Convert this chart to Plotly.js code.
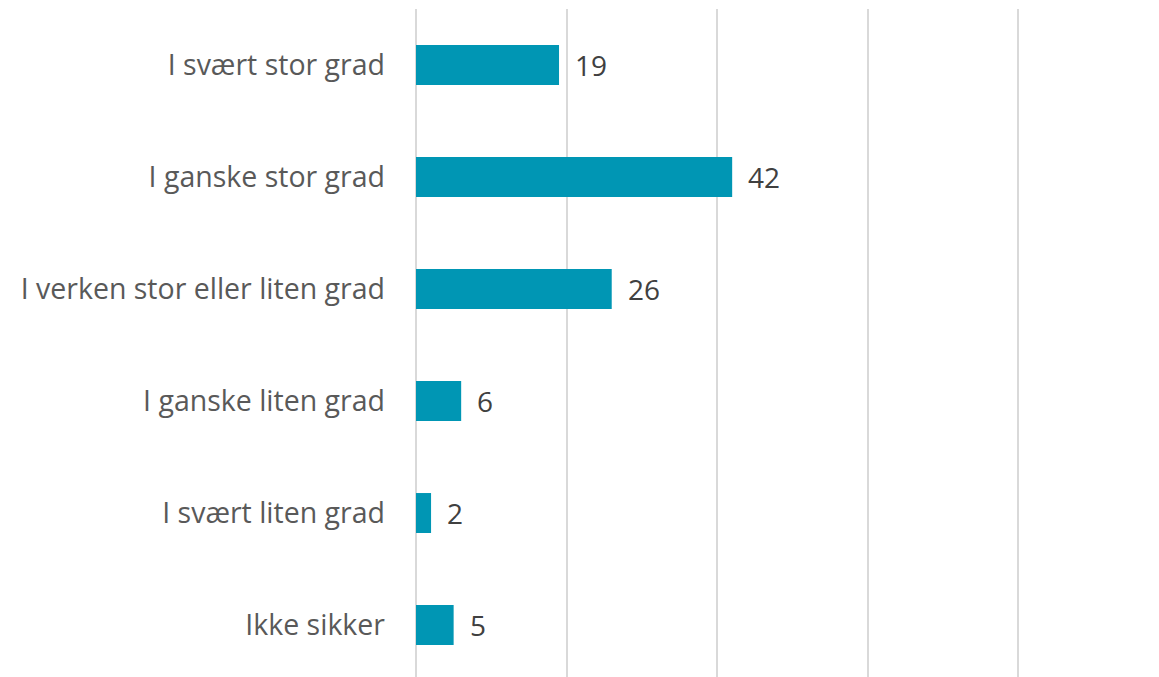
<!DOCTYPE html>
<html>
<head>
<meta charset="utf-8">
<script src="https://cdn.plot.ly/plotly-3.0.1.min.js"></script>
<style>html,body{margin:0;padding:0;background:#fff;}#chart{width:1159px;height:677px;}</style>
</head>
<body>
<div id="chart"></div>
<script>
const categories = ["I svært stor grad", "I ganske stor grad", "I verken stor eller liten grad", "I ganske liten grad", "I svært liten grad", "Ikke sikker"];
const values = [19, 42, 26, 6, 2, 5];
const xTicks = [0, 20, 40, 60, 80];

const trace = {
  type: 'bar',
  orientation: 'h',
  x: values,
  y: categories,
  marker: {color: '#0096B4'},
  width: 0.357,
  hoverinfo: 'none'
};

const annotations = categories.map((c, i) => ({
  x: values[i], y: c, xref: 'x', yref: 'y',
  text: String(values[i]),
  showarrow: false, xanchor: 'left', xshift: 14,
  font: {family: 'Open Sans, sans-serif', size: 28, color: '#404040'}
}));

const layout = {
  width: 1159, height: 677,
  margin: {l: 416, r: 0, t: 9, b: 0, pad: 0},
  paper_bgcolor: '#ffffff', plot_bgcolor: '#ffffff',
  showlegend: false,
  xaxis: {
    range: [0, 98.7], tickvals: xTicks, showticklabels: false,
    showgrid: true, gridcolor: '#d9d9d9', gridwidth: 2,
    zeroline: true, zerolinecolor: '#d9d9d9', zerolinewidth: 2,
    showline: false, fixedrange: true
  },
  yaxis: {
    type: 'category', range: [5.464, -0.5], autorange: false,
    showgrid: false, zeroline: false, showline: false,
    ticks: '', ticklabelstandoff: 30,
    tickfont: {family: 'Open Sans, sans-serif', size: 28.5, color: '#595959'}
  },
  annotations: annotations
};

Plotly.newPlot('chart', [trace], layout, {staticPlot: true});
</script>
</body>
</html>
